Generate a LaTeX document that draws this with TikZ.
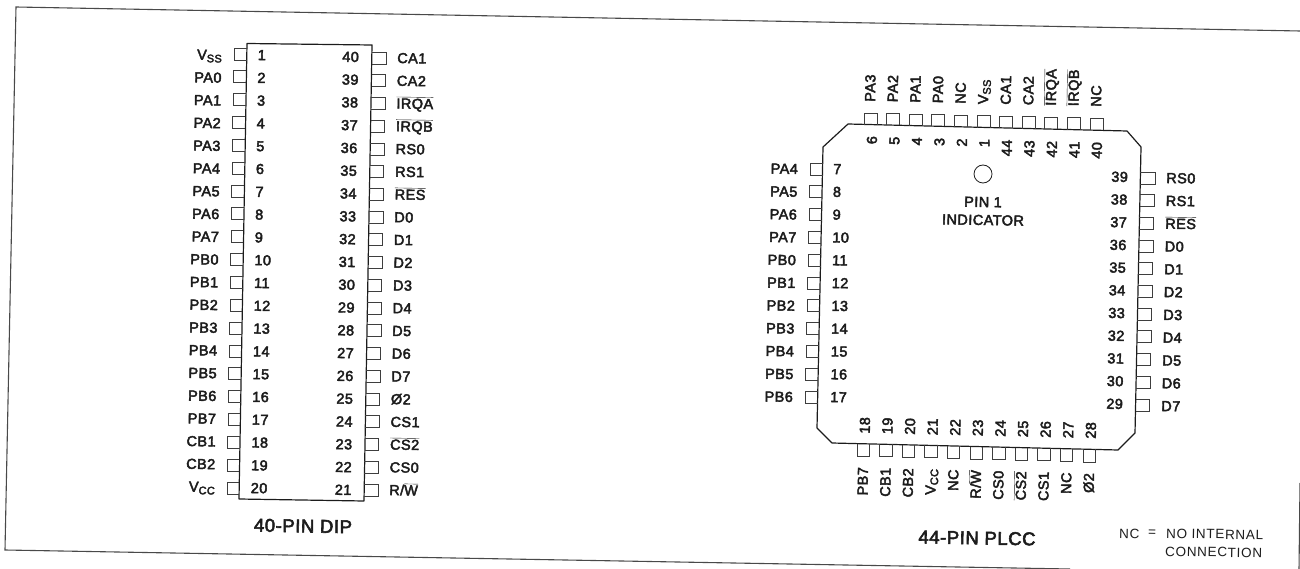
\documentclass[tikz,border=0pt]{standalone}
\usepackage{fontspec}
\setmainfont{Liberation Sans}
\newfontfamily\pinfont{Liberation Sans}[LetterSpace=3,FakeBold=3]
\newfontfamily\lightfont{Liberation Sans}[LetterSpace=5]
\newcommand{\ovl}[1]{$\overline{\hbox{#1}}$}
\newcommand{\sbs}[1]{\raisebox{-2.5pt}{\fontsize{11}{11}\selectfont #1}}
\definecolor{ink}{HTML}{1C1C1C}
\tikzset{
  lbl/.style={inner sep=0pt,text=ink,font=\pinfont\fontsize{14.5}{14}\selectfont},
  ttl/.style={inner sep=0pt,text=ink,font=\pinfont\fontsize{18.5}{18}\selectfont},
  thin note/.style={inner sep=0pt,text=ink,font=\lightfont\fontsize{13.5}{14}\selectfont},
  pinbox/.style={draw=ink!85,line width=0.85pt},
  bodyline/.style={draw=ink,line width=1.2pt,line join=round},
  frameline/.style={draw=ink!80,line width=1.1pt},
}
\begin{document}
\begin{tikzpicture}[x=1pt,y=-1pt]
\useasboundingbox (0,0) rectangle (1300,569);
% page frame
\draw[frameline] (1300,31) -- (16,7) -- (5,550) -- (1070,569);
\draw[frameline] (1300,483) -- (1299,569);

% ---- 40-pin DIP ----
\draw[bodyline] (247,43.5) -- (372,45) -- (364,501) -- (239,499) -- cycle;
\foreach \n/\lab [count=\i from 0] in {1/V\sbs{SS},2/PA0,3/PA1,4/PA2,5/PA3,6/PA4,7/PA5,8/PA6,9/PA7,10/PB0,11/PB1,12/PB2,13/PB3,14/PB4,15/PB5,16/PB6,17/PB7,18/CB1,19/CB2,20/V\sbs{CC}}{
  \pgfmathsetmacro\t{\i/19}
  \pgfmathsetmacro\yb{48+434*\t}
  \pgfmathsetmacro\xo{234-7*\t}
  \pgfmathsetmacro\xb{246.5-7.5*\t}
  \draw[pinbox] (\xb,\yb) -- (\xo,\yb) -- (\xo,\yb+12) -- (\xb,\yb+12);
  \node[lbl,rotate=-1,anchor=base east] (dl\n) at ({222-7*\t},{60+432*\t}) {\lab};
  \node[lbl,rotate=-1,anchor=base west] (dn\n) at ({257.5-7*\t},{60+433*\t}) {\n};
}
\foreach \n/\lab [count=\i from 0] in {40/CA1,39/CA2,38/\ovl{IRQA},37/\ovl{IRQB},36/RS0,35/RS1,34/\ovl{RES},33/D0,32/D1,31/D2,30/D3,29/D4,28/D5,27/D6,26/D7,25/Ø2,24/CS1,23/\ovl{CS2},22/CS0,21/{R/\ovl{W}}}{
  \pgfmathsetmacro\t{\i/19}
  \pgfmathsetmacro\yb{52+432*\t}
  \pgfmathsetmacro\xo{386-8*\t}
  \pgfmathsetmacro\xb{372-8*\t}
  \draw[pinbox] (\xb,\yb) -- (\xo,\yb) -- (\xo,\yb+12) -- (\xb,\yb+12);
  \node[lbl,rotate=-1,anchor=base east] (dn\n) at ({359-7.5*\t},{62+433*\t}) {\n};
  \node[lbl,rotate=-1,anchor=base west] (dl\n) at ({397-8*\t},{63+432*\t}) {\lab};
}
\node[ttl,rotate=-1] (diptitle) at (303,526) {40-PIN DIP};

% ---- 44-pin PLCC ----
\draw[bodyline] (848,124) -- (1127,131) -- (1141,147) -- (1135,433) -- (1118,450)
   -- (832,443) -- (817,428) -- (823,147) -- cycle;
% left side
\foreach \n/\lab [count=\i from 0] in {7/PA4,8/PA5,9/PA6,10/PA7,11/PB0,12/PB1,13/PB2,14/PB3,15/PB4,16/PB5,17/PB6}{
  \pgfmathsetmacro\t{\i/10}
  \pgfmathsetmacro\yb{163+228*\t}
  \pgfmathsetmacro\xo{810-5*\t}
  \pgfmathsetmacro\xb{822.5-5*\t}
  \draw[pinbox] (\xb,\yb) -- (\xo,\yb) -- (\xo,\yb+12) -- (\xb,\yb+12);
  \node[lbl,rotate=-1,anchor=base east] (pl\n) at ({798-5*\t},{174+228*\t}) {\lab};
  \node[lbl,rotate=-1,anchor=base west] (pn\n) at ({833-3*\t},{174+228*\t}) {\n};
}
% right side
\foreach \n/\lab [count=\i from 0] in {39/RS0,38/RS1,37/\ovl{RES},36/D0,35/D1,34/D2,33/D3,32/D4,31/D5,30/D6,29/D7}{
  \pgfmathsetmacro\t{\i/10}
  \pgfmathsetmacro\yb{172+227*\t}
  \pgfmathsetmacro\xo{1155-5.5*\t}
  \pgfmathsetmacro\xb{1140.3-4.7*\t}
  \draw[pinbox] (\xb,\yb) -- (\xo,\yb) -- (\xo,\yb+12) -- (\xb,\yb+12);
  \node[lbl,rotate=-1,anchor=base east] (pn\n) at ({1128-5*\t},{182+227*\t}) {\n};
  \node[lbl,rotate=-1,anchor=base west] (pl\n) at ({1166-5*\t},{183+228*\t}) {\lab};
}
% top side
\foreach \n/\lab [count=\i from 0] in {6/PA3,5/PA2,4/PA1,3/PA0,2/NC,1/V\sbs{SS},44/CA1,43/CA2,42/\ovl{IRQA},41/\ovl{IRQB},40/NC}{
  \pgfmathsetmacro\t{\i/10}
  \pgfmathsetmacro\xb{864+226*\t}
  \pgfmathsetmacro\yo{113+5*\t}
  \pgfmathsetmacro\yb{124.8+5.5*\t}
  \draw[pinbox] (\xb,\yb) -- (\xb,\yo) -- (\xb+13,\yo) -- (\xb+13,\yb);
  \node[lbl,rotate=89,anchor=base west] (tl\n) at ({875+226*\t},{102+5*\t}) {\lab};
  \node[lbl,rotate=89,anchor=base east] (tn\n) at ({877+225*\t},{136+6*\t}) {\n};
}
% bottom side
\foreach \n/\lab [count=\i from 0] in {18/PB7,19/CB1,20/CB2,21/V\sbs{CC},22/NC,23/{R/\ovl{W}},24/CS0,25/\ovl{CS2},26/CS1,27/NC,28/Ø2}{
  \pgfmathsetmacro\t{\i/10}
  \pgfmathsetmacro\xb{857+226*\t}
  \pgfmathsetmacro\yo{456+6*\t}
  \pgfmathsetmacro\yb{443.8+5.5*\t}
  \draw[pinbox] (\xb,\yb) -- (\xb,\yo) -- (\xb+12.5,\yo) -- (\xb+12.5,\yb);
  \node[lbl,rotate=89,anchor=base east] (bl\n) at ({868+226*\t},{467+6*\t}) {\lab};
  \node[lbl,rotate=89,anchor=base east] (bn\n) at ({870+226*\t},{417+5*\t}) {\n};
}
% pin 1 indicator
\node[draw=ink,line width=0.8pt,circle,minimum size=18pt,inner sep=0pt] (pinone) at (983,174) {};
\node[lbl,rotate=-1] (pinonetext) at (983,202) {PIN 1};
\node[lbl,rotate=-1] (indicator) at (983,220) {INDICATOR};
\node[ttl,rotate=-1] (plcctitle) at (977,538) {44-PIN PLCC};
% legend
\node[thin note,rotate=-1,anchor=base west] (nc) at (1119,538) {NC};
\node[thin note,rotate=-1] (eq) at (1152,533) {=};
\node[thin note,rotate=-1,anchor=base west] (noint) at (1166,538) {NO INTERNAL};
\node[thin note,rotate=-1,anchor=base west] (conn) at (1165,556) {CONNECTION};
\end{tikzpicture}
\end{document}
